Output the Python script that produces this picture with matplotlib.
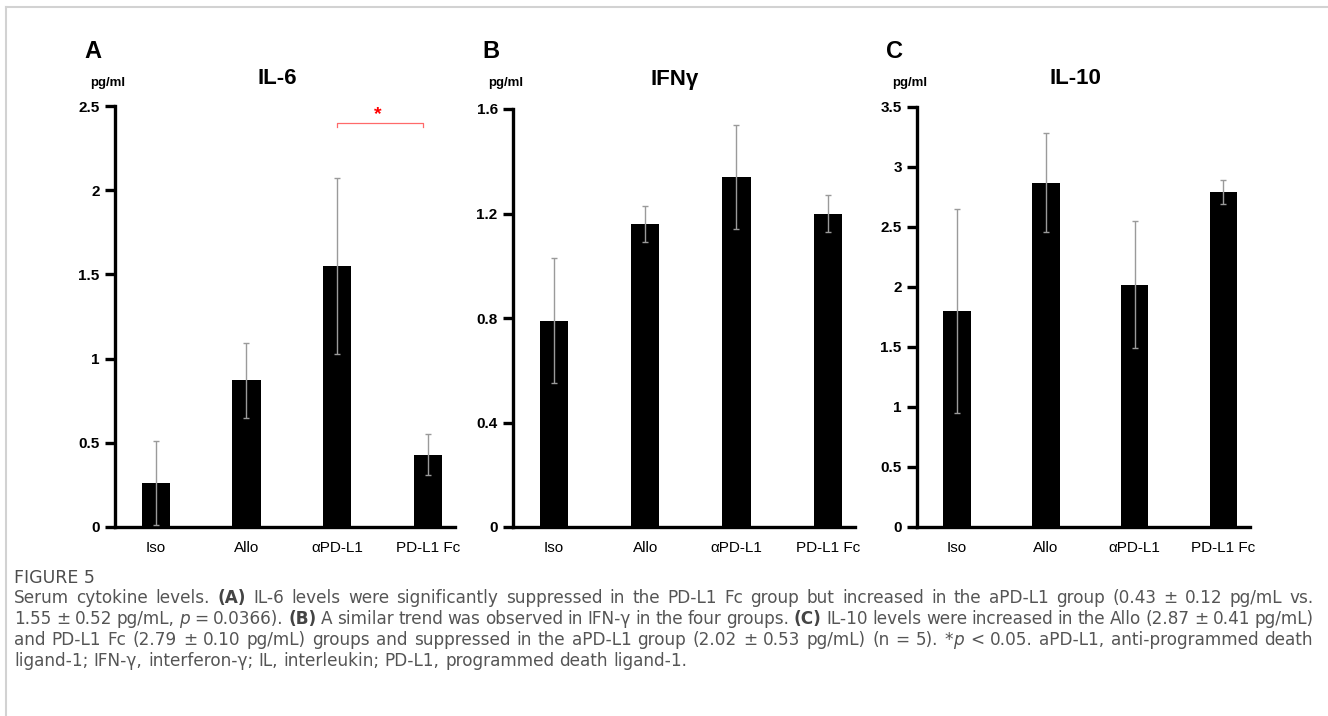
import matplotlib
matplotlib.use('Agg')
import matplotlib.pyplot as plt
from matplotlib.lines import Line2D

plt.rcParams['font.family'] = ['Liberation Sans', 'DejaVu Sans']

# Gruppi e valori (media, deviazione standard)
groups = ['Iso', 'Allo', 'αPD-L1', 'PD-L1 Fc']

il6_mean = [0.26, 0.87, 1.55, 0.43]
il6_sd = [0.25, 0.22, 0.52, 0.12]

ifng_mean = [0.79, 1.16, 1.34, 1.20]
ifng_sd = [0.24, 0.07, 0.20, 0.07]

il10_mean = [1.80, 2.87, 2.02, 2.79]
il10_sd = [0.85, 0.41, 0.53, 0.10]

il6_ticks = [0, 0.5, 1, 1.5, 2, 2.5]
il6_ticklabels = ['0', '0.5', '1', '1.5', '2', '2.5']
ifng_ticks = [0, 0.4, 0.8, 1.2, 1.6]
ifng_ticklabels = ['0', '0.4', '0.8', '1.2', '1.6']
il10_ticks = [0, 0.5, 1, 1.5, 2, 2.5, 3, 3.5]
il10_ticklabels = ['0', '0.5', '1', '1.5', '2', '2.5', '3', '3.5']

W, H = 1328, 716
fig = plt.figure(figsize=(W / 100, H / 100), dpi=100)


def fx(x):
    return x / W


def fy(y):
    return 1 - y / H


def draw_panel(x0, x1, ytop, ybot, means, sds, ticks, ticklabels, letter, title, title_x):
    ax = fig.add_axes([fx(x0), fy(ybot), (x1 - x0) / W, (ybot - ytop) / H])
    xs = list(range(len(groups)))
    ax.bar(xs, means, width=0.31, color='black', zorder=2)
    ax.errorbar(xs, means, yerr=sds, fmt='none', ecolor='#9a9a9a',
                elinewidth=1, capsize=2.5, capthick=1, zorder=3)
    ax.set_xlim(-0.45, 3.3)
    ax.set_ylim(0, ticks[-1])
    ax.set_yticks(ticks)
    ax.set_yticklabels(ticklabels, fontweight='bold', fontsize=11)
    ax.set_xticks(xs)
    ax.set_xticklabels(groups, fontsize=11)
    ax.tick_params(axis='y', direction='out', length=7, width=2.4, pad=4)
    ax.tick_params(axis='x', length=0, pad=10)
    for s in ['top', 'right']:
        ax.spines[s].set_visible(False)
    for s in ['left', 'bottom']:
        ax.spines[s].set_linewidth(2.4)
    ax.set_facecolor('none')
    # lettera del pannello, unita' e titolo
    fig.text(fx(x0 - 31), fy(52), letter, fontsize=17, fontweight='bold', ha='left', va='center')
    fig.text(fx(x0 - 7), fy(83), 'pg/ml', fontsize=9.5, fontweight='bold', ha='center', va='center')
    fig.text(fx(title_x), fy(79), title, fontsize=16, fontweight='bold', ha='center', va='center')
    return ax


ax_a = draw_panel(115, 455, 106, 527, il6_mean, il6_sd, il6_ticks, il6_ticklabels, 'A', 'IL-6', 277)
ax_b = draw_panel(513, 855, 109, 527, ifng_mean, ifng_sd, ifng_ticks, ifng_ticklabels, 'B', 'IFNγ', 675)
ax_c = draw_panel(917, 1250, 107, 527, il10_mean, il10_sd, il10_ticks, il10_ticklabels, 'C', 'IL-10', 1075)

# Significativita' aPD-L1 vs PD-L1 Fc
ax_a.plot([2, 2, 2.95, 2.95], [2.375, 2.40, 2.40, 2.375], color='#ff6a6a', lw=0.9, clip_on=False)
ax_a.text(2.45, 2.40, '*', color='red', fontsize=14, fontweight='bold', ha='center', va='bottom')

# Cornice grigia
fig.add_artist(Line2D([fx(6), 1], [fy(7), fy(7)], color='#d2d2d2', lw=1.5))
fig.add_artist(Line2D([fx(6), fx(6)], [fy(7), 0], color='#d2d2d2', lw=1.5))

# Didascalia
cap_font = dict(family=['DejaVu Sans'], fontsize=12.2, color='#555555')
renderer = fig.canvas.get_renderer()


def style_kw(style):
    kw = dict(cap_font)
    if style == 'b':
        kw['fontweight'] = 'bold'
        kw['color'] = '#444444'
    elif style == 'i':
        kw['fontstyle'] = 'italic'
    return kw


def run_width(s, kw):
    t = fig.text(0, 0, '|' + s + '|', **kw)
    w = t.get_window_extent(renderer).width
    t.remove()
    t = fig.text(0, 0, '||', **kw)
    w -= t.get_window_extent(renderer).width
    t.remove()
    return w


def draw_runs(x, y, runs, x_end=None):
    # spezza in parole: (testo, stile, spazio prima)
    pieces = []
    space_next = False
    for s, style in runs:
        parts = s.split(' ')
        for j, p in enumerate(parts):
            if j > 0:
                space_next = True
            if p:
                pieces.append((p, style, space_next and len(pieces) > 0))
                space_next = False
    widths = [run_width(p, style_kw(st)) for p, st, _ in pieces]
    n_gaps = sum(1 for _, _, sp in pieces if sp)
    gap = run_width(' ', cap_font)
    if x_end is not None and n_gaps:
        gap = (x_end - x - sum(widths)) / n_gaps
    for (p, st, sp), w in zip(pieces, widths):
        if sp:
            x += gap
        fig.text(fx(x), fy(y), p, ha='left', va='baseline', **style_kw(st))
        x += w


fig.text(fx(14), fy(583), 'FIGURE 5', ha='left', va='baseline',
         family=['DejaVu Sans'], fontsize=12.5, color='#4d4d4d')

caption_lines = [
    [('Serum cytokine levels. ', ''), ('(A)', 'b'),
     (' IL-6 levels were significantly suppressed in the PD-L1 Fc group but increased in the aPD-L1 group (0.43 ± 0.12 pg/mL vs.', '')],
    [('1.55 ± 0.52 pg/mL, ', ''), ('p', 'i'), (' = 0.0366). ', ''), ('(B)', 'b'),
     (' A similar trend was observed in IFN-γ in the four groups. ', ''), ('(C)', 'b'),
     (' IL-10 levels were increased in the Allo (2.87 ± 0.41 pg/mL)', '')],
    [('and PD-L1 Fc (2.79 ± 0.10 pg/mL) groups and suppressed in the aPD-L1 group (2.02 ± 0.53 pg/mL) (n = 5). *', ''),
     ('p', 'i'), (' < 0.05. aPD-L1, anti-programmed death', '')],
    [('ligand-1; IFN-γ, interferon-γ; IL, interleukin; PD-L1, programmed death ligand-1.', '')],
]
line_ends = [1314, 1314, 1313, None]
for i, line in enumerate(caption_lines):
    draw_runs(14, 603 + 21 * i, line, line_ends[i])

fig.savefig('out.png', dpi=100, facecolor='white')
